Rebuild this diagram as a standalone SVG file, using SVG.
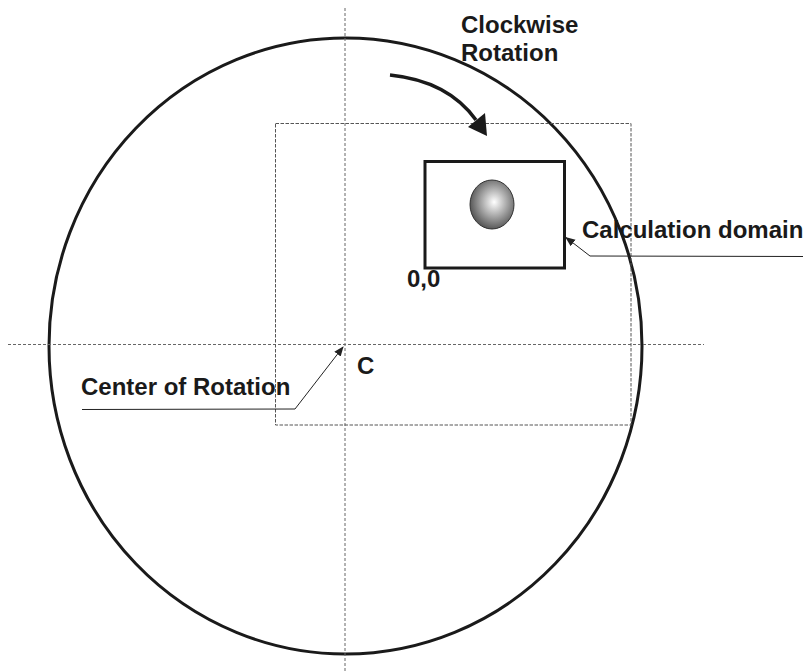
<svg xmlns="http://www.w3.org/2000/svg" width="809" height="672" viewBox="0 0 809 672">
<style>
.lbl{font-family:"Liberation Sans",Arial,sans-serif;font-weight:bold;font-size:24px;fill:#1a1a1a}
.axis{stroke:#666;stroke-width:1;stroke-dasharray:3 2;fill:none}
.dash{stroke:#555;stroke-width:1;stroke-dasharray:3.5 1.5;fill:none}
.lead{stroke:#222;stroke-width:1;fill:none}
</style>
<defs>
<radialGradient id="ballG" cx="0.55" cy="0.45" r="0.6">
<stop offset="0" stop-color="#ffffff"/>
<stop offset="1" stop-color="#4a4a4a"/>
</radialGradient>
<marker id="ah" viewBox="0 0 10 10" refX="9" refY="5" markerWidth="10" markerHeight="10" markerUnits="userSpaceOnUse" orient="auto">
<path d="M0,1 L10,5 L0,9 Z" fill="#222"/>
</marker>
</defs>
<g id="outer-circle">
<ellipse cx="345.5" cy="346" rx="296.5" ry="308" fill="none" stroke="#1a1a1a" stroke-width="3"/>
</g>
<g id="axes">
<line class="axis" x1="345" y1="8" x2="345" y2="672"/>
<line class="axis" x1="8" y1="344.5" x2="704" y2="344.5"/>
</g>
<g id="rotation-region">
<rect class="dash" x="275.5" y="123.5" width="355.5" height="301.5"/>
</g>
<g id="calculation-domain">
<rect x="425" y="161.5" width="139.5" height="106.5" fill="#fff" stroke="#1a1a1a" stroke-width="3"/>
<ellipse cx="492" cy="204.5" rx="22" ry="24.5" fill="url(#ballG)" stroke="#333" stroke-width="1"/>
</g>
<g id="connectors">
<path d="M390,75 Q448,81 476,120" fill="none" stroke="#1a1a1a" stroke-width="3.5"/>
<polygon points="487,136 468,127 485,113" fill="#1a1a1a"/>
<path class="lead" d="M803,256.5 L590,256 L566,237.5" marker-end="url(#ah)"/>
<path class="lead" d="M82,409.5 L295,409 L343,347" marker-end="url(#ah)"/>
</g>
<g id="labels">
<text class="lbl" x="461" y="33">Clockwise</text>
<text class="lbl" x="461" y="61">Rotation</text>
<text class="lbl" x="582" y="238">Calculation domain</text>
<text class="lbl" x="407" y="287">0,0</text>
<text class="lbl" x="357" y="374">C</text>
<text class="lbl" x="81" y="395">Center of Rotation</text>
</g>
</svg>
